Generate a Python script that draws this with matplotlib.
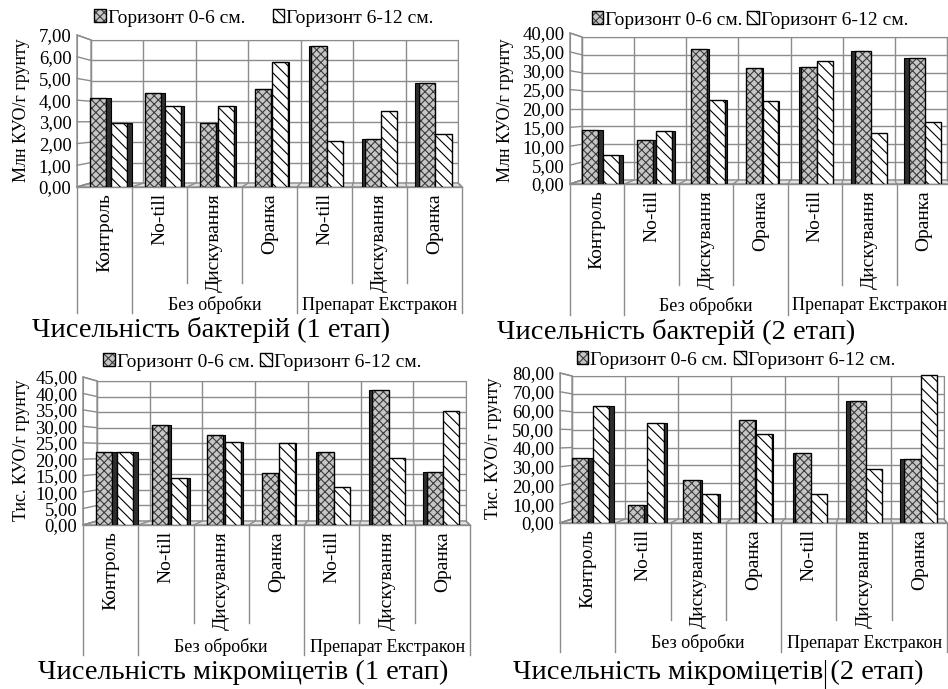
import numpy as np
import matplotlib
matplotlib.use("Agg")
import matplotlib.pyplot as plt
from matplotlib.lines import Line2D
from matplotlib.patches import Polygon
from matplotlib.ticker import FuncFormatter

plt.rcParams['font.family'] = ['Liberation Serif', 'DejaVu Serif']
plt.rcParams['hatch.linewidth'] = 0.8

W, H = 948, 689
GRID = '#8c8c8c'

categories = ['Контроль', 'No-till', 'Дискування', 'Оранка', 'No-till', 'Дискування', 'Оранка']
groups = ['Без обробки', 'Препарат Екстракон']
group_spans = [(1, 4), (4, 7)]
series = ['Горизонт 0-6 см.', 'Горизонт 6-12 см.']

# bacteria, stage 1 (mln CFU per g of soil)
bact1_top = [4.11, 4.33, 2.95, 4.50, 6.50, 2.23, 4.78]
bact1_sub = [2.93, 3.75, 3.75, 5.77, 2.12, 3.49, 2.45]
# bacteria, stage 2
bact2_top = [14.3, 11.6, 35.7, 30.8, 30.9, 35.2, 33.5]
bact2_sub = [7.8, 14.1, 22.2, 22.1, 32.5, 13.6, 16.4]
# micromycetes, stage 1 (thousand CFU per g of soil)
micro1_top = [22.2, 30.5, 27.3, 15.7, 22.2, 41.0, 16.2]
micro1_sub = [22.2, 14.4, 25.3, 25.0, 11.6, 20.5, 34.6]
# micromycetes, stage 2
micro2_top = [34.7, 9.4, 23.1, 55.1, 37.3, 64.9, 34.1]
micro2_sub = [62.2, 53.3, 15.5, 47.5, 15.6, 29.0, 79.1]

panels = [
    dict(top=bact1_top, sub=bact1_sub, ymax=7, step=1,
         ylabel='Млн КУО/г грунту', title='Чисельність бактерій (1 етап)',
         front=(77, 462, 35, 187), back=(91, 458, 40, 183),
         inner=283, outer=313, grp_y=305, title_xy=(211, 337),
         legend_xy=(264, 18), legend_gap=1.4, ylabel_xy=(22, 110)),
    dict(top=bact2_top, sub=bact2_sub, ymax=40, step=5,
         ylabel='Млн КУО/г грунту', title='Чисельність бактерій (2 етап)',
         front=(570, 951, 33, 184), back=(582, 947, 37, 180),
         inner=285, outer=315, grp_y=306, title_xy=(676, 339),
         legend_xy=(750, 20), legend_gap=0.25, ylabel_xy=(505, 110)),
    dict(top=micro1_top, sub=micro1_sub, ymax=45, step=5,
         ylabel='Тис. КУО/г грунту', title='Чисельність мікроміцетів (1 етап)',
         front=(83, 470, 377, 525), back=(97, 466, 381, 521),
         inner=623, outer=655, grp_y=647, title_xy=(243, 679),
         legend_xy=(262, 362), legend_gap=0.3, ylabel_xy=(22, 450)),
    dict(top=micro2_top, sub=micro2_sub, ymax=80, step=10,
         ylabel='Тис. КУО/г грунту', title='Чисельність мікроміцетів (2 етап)',
         front=(560, 947, 373, 523), back=(572, 944, 376, 519),
         inner=620, outer=652, grp_y=643, title_xy=(718, 679),
         legend_xy=(736, 360), legend_gap=0.35, ylabel_xy=(493, 448)),
]

fig = plt.figure(figsize=(W / 100, H / 100), dpi=100)


def fx(x):
    return x / W


def fy(y):
    return 1 - y / H


def axes_px(x0, x1, yt, yb):
    return fig.add_axes([fx(x0), fy(yb), (x1 - x0) / W, (yb - yt) / H])


def fig_line(xs, ys, **kw):
    fig.add_artist(Line2D([fx(x) for x in xs], [fy(y) for y in ys],
                          transform=fig.transFigure, **kw))


def fig_poly(pts, **kw):
    fig.add_artist(Polygon([(fx(x), fy(y)) for x, y in pts], closed=True,
                           transform=fig.transFigure, **kw))


def comma(v, _):
    return f'{v:.2f}'.replace('.', ',')


def draw_panel(p):
    n = len(categories)
    fx0, fx1, fyt, fyb = p['front']
    bx0, bx1, byt, byb = p['back']
    ymax, step = p['ymax'], p['step']
    ticks = np.arange(0, ymax + step / 2, step)

    # back wall with gridlines
    axw = axes_px(bx0, bx1, byt, byb)
    axw.set_zorder(0)
    axw.set_xlim(0, n)
    axw.set_ylim(0, ymax)
    axw.set_xticks(np.arange(n + 1))
    axw.set_yticks(ticks)
    axw.tick_params(length=0, labelbottom=False, labelleft=False)
    axw.grid(True, color=GRID, lw=1)
    for sp in axw.spines.values():
        sp.set_color(GRID)

    # side wall and floor of the 3D box
    fig_poly([(fx0, fyt), (bx0, byt), (bx0, byb), (fx0, fyb)],
             facecolor='white', edgecolor=GRID, lw=1, zorder=0.5)
    for v in ticks:
        f = v / ymax
        fig_line([fx0, bx0], [fyb - f * (fyb - fyt), byb - f * (byb - byt)],
                 color=GRID, lw=1, zorder=0.6)
    fig_poly([(fx0, fyb), (fx1, fyb), (bx1, byb), (bx0, byb)],
             facecolor='#e2e2e2', edgecolor=GRID, lw=1, zorder=0.5)
    for k in range(n + 1):
        fig_line([fx0 + k * (fx1 - fx0) / n, bx0 + k * (bx1 - bx0) / n], [fyb, byb],
                 color=GRID, lw=1, zorder=0.6)

    # front axis: value labels and the two-level category table
    axf = axes_px(fx0, fx1, fyt, fyb)
    axf.set_zorder(1)
    axf.patch.set_visible(False)
    axf.set_xlim(0, n)
    axf.set_ylim(0, ymax)
    axf.set_yticks(ticks)
    axf.set_xticks([])
    axf.yaxis.set_major_formatter(FuncFormatter(comma))
    axf.tick_params(axis='y', length=0, pad=4, labelsize=13.5)
    for s in ['top', 'right', 'bottom']:
        axf.spines[s].set_visible(False)
    axf.spines['left'].set_color(GRID)

    h = fyb - fyt
    trans = axf.get_xaxis_transform()
    axf.plot([0, n], [0, 0], transform=trans, clip_on=False, color=GRID, lw=1)
    outer_idx = {0} | {a for a, b in group_spans} | {b for a, b in group_spans}
    for k in range(n + 1):
        depth = p['outer'] if k in outer_idx else p['inner']
        axf.plot([k, k], [0, -(depth - fyb) / h], transform=trans,
                 clip_on=False, color=GRID, lw=1)
    for i, lab in enumerate(categories):
        axf.text(i + 0.5, -6 / h, lab, rotation=90, ha='center', va='top',
                 transform=trans, fontsize=14)
    for g, (a, b) in zip(groups, group_spans):
        axf.text((a + b) / 2, -(p['grp_y'] - fyb) / h, g, ha='center', va='center',
                 transform=trans, fontsize=13)

    # bars sit half way between the front and the back wall
    axb = axes_px((fx0 + bx0) / 2, (fx1 + bx1) / 2, fyt, fyb)
    axb.set_zorder(2)
    axb.set_axis_off()
    axb.set_xlim(0, n)
    axb.set_ylim(0, ymax)

    w = 0.30
    xa, xb, sa_x, sa_w, sa_h, sb_x, sb_w, sb_h = [], [], [], [], [], [], [], []
    for i in range(n):
        c = i + 0.5
        s = 0.025 * abs(i - 3) + 0.01
        if i <= 3:
            left = c - (2 * w + 2 * s) / 2
            xa.append(left + w / 2)
            sa_x.append(left + w + s / 2)
            xb.append(left + w + s + w / 2)
            sb_x.append(left + 2 * w + s + s / 2)
            sb_w.append(s)
            sb_h.append(p['sub'][i])
        else:
            left = c - (s + 2 * w) / 2
            sa_x.append(left + s / 2)
            xa.append(left + s + w / 2)
            xb.append(left + s + w + w / 2)
        sa_w.append(s)
        sa_h.append(p['top'][i])

    fa = axb.bar(xa, p['top'], w, facecolor='#c6c6c6', edgecolor='#3c3c3c',
                 hatch='xxxx', lw=0)
    ea = axb.bar(xa, p['top'], w, fill=False, edgecolor='black', lw=1)
    axb.bar(sa_x, sa_h, sa_w, facecolor='#2e2e2e', edgecolor='black', lw=0.8)
    fb = axb.bar(xb, p['sub'], w, facecolor='white', edgecolor='black',
                 hatch='\\\\\\', lw=1)
    if sb_x:
        axb.bar(sb_x, sb_h, sb_w, facecolor='#2e2e2e', edgecolor='black', lw=0.8)

    lx, ly = p['legend_xy']
    fig.legend([(fa, ea), fb], series, loc='center',
               bbox_to_anchor=(fx(lx), fy(ly)), bbox_transform=fig.transFigure,
               ncol=2, frameon=False, fontsize=14, handlelength=0.6,
               handleheight=0.6, handletextpad=0.1, columnspacing=p['legend_gap'],
               borderaxespad=0, borderpad=0)

    yx, yy = p['ylabel_xy']
    fig.text(fx(yx), fy(yy), p['ylabel'], rotation=90, ha='center', va='center',
             fontsize=13)
    tx, ty = p['title_xy']
    return fig.text(fx(tx), fy(ty), p['title'], ha='center', va='baseline',
                    fontsize=20.5)


titles = [draw_panel(p) for p in panels]

# text cursor left after "мікроміцетів" in the last caption
renderer = fig.canvas.get_renderer()
last = titles[-1]
box = last.get_window_extent(renderer)
head = fig.text(0, 0, last.get_text().split(' (')[0], fontsize=20.5)
head_w = head.get_window_extent(renderer).width
head.remove()
cx = (box.x0 + head_w + 2) / fig.dpi / fig.get_figwidth()
fig_line([cx * W, cx * W], [660, 688], color='black', lw=0.8, zorder=3)

fig.savefig('out.png', dpi=100)
